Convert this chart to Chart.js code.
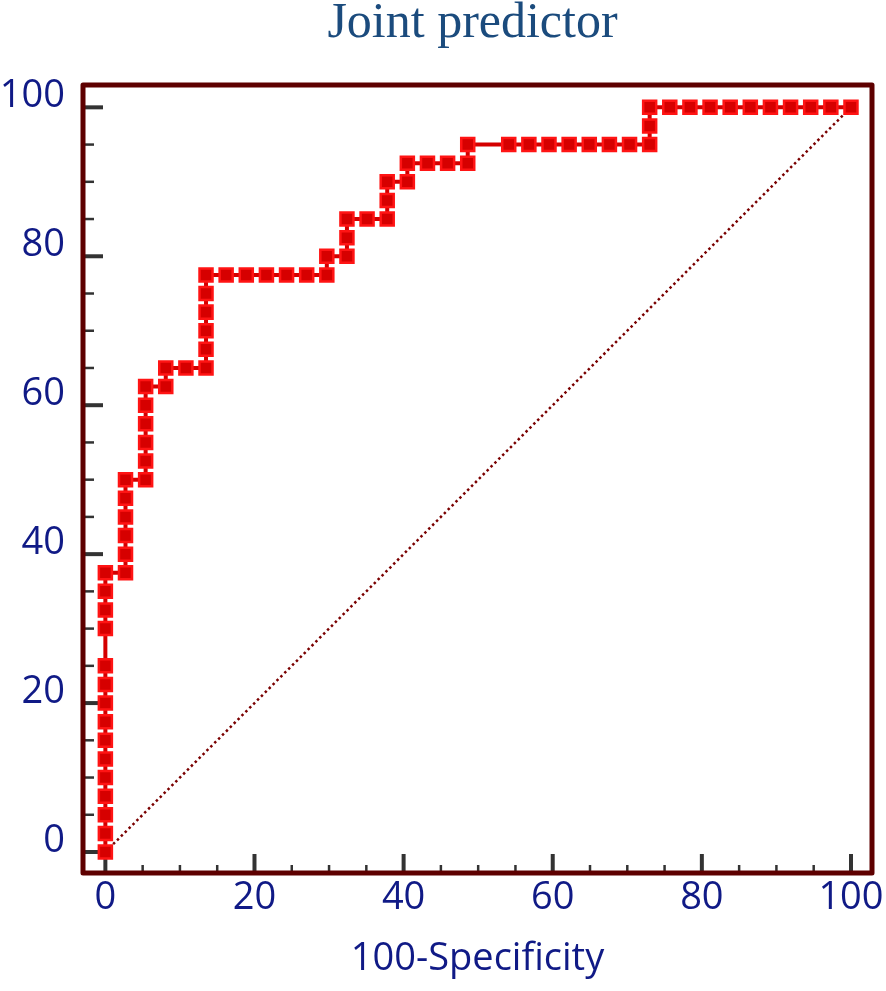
<!DOCTYPE html>
<html><head><meta charset="utf-8">
<script src="https://cdn.jsdelivr.net/npm/chart.js@4.4.0/dist/chart.umd.min.js"></script>
<style>html,body{margin:0;padding:0;background:#fff;} canvas{display:block;}</style>
</head><body>
<canvas id="c" width="886" height="991"></canvas>
<script>
const chartTitle = 'Joint predictor';
const xAxisTitle = '100-Specificity';

// ROC curve points: x = 100-Specificity, y = Sensitivity
const specComplement = [
  0,0,0,0,0,0,0,0,0,0,0,0,0,0,0,
  2.7,2.7,2.7,2.7,2.7,2.7,
  5.4,5.4,5.4,5.4,5.4,5.4,
  8.1,8.1,
  10.8,
  13.5,13.5,13.5,13.5,13.5,13.5,
  16.2,18.9,21.6,24.3,27.0,
  29.7,29.7,
  32.4,32.4,32.4,
  35.1,
  37.8,37.8,37.8,
  40.5,40.5,
  43.2,45.9,
  48.6,48.6,
  54.1,56.8,59.5,62.2,64.9,67.6,70.3,
  73.0,73.0,73.0,
  75.7,78.4,81.1,83.8,86.5,89.2,91.9,94.6,97.3,100
];
const sensitivity = [
  0,2.5,5,7.5,10,12.5,15,17.5,20,22.5,25,30,32.5,35,37.5,
  37.5,40,42.5,45,47.5,50,
  50,52.5,55,57.5,60,62.5,
  62.5,65,
  65,
  65,67.5,70,72.5,75,77.5,
  77.5,77.5,77.5,77.5,77.5,
  77.5,80,
  80,82.5,85,
  85,
  85,87.5,90,
  90,92.5,
  92.5,92.5,
  92.5,95,
  95,95,95,95,95,95,95,
  95,97.5,100,
  100,100,100,100,100,100,100,100,100,100
];
const diagonalX = [0, 100];
const diagonalY = [0, 100];
const majorTicks = [0, 20, 40, 60, 80, 100];
const minorTicks = [5, 10, 15, 25, 30, 35, 45, 50, 55, 65, 70, 75, 85, 90, 95];

const rocPoints = specComplement.map((v, i) => ({x: v, y: sensitivity[i]}));
const diagPoints = diagonalX.map((v, i) => ({x: v, y: diagonalY[i]}));

const labelColor = '#101a86';
const tickFont = {family: "'Open Sans', 'Noto Sans', sans-serif", size: 38};

const frameAndTicks = {
  id: 'frameAndTicks',
  beforeDatasetsDraw(chart) {
    const {ctx, chartArea: a, scales: {x, y}} = chart;
    ctx.save();
    ctx.strokeStyle = '#333333';
    ctx.lineCap = 'butt';
    const seg = (x1, y1, x2, y2, w) => { ctx.lineWidth = w; ctx.beginPath(); ctx.moveTo(x1, y1); ctx.lineTo(x2, y2); ctx.stroke(); };
    majorTicks.forEach(v => {
      const px = x.getPixelForValue(v);
      seg(px, a.bottom, px, a.bottom - 19, 4);
      const py = y.getPixelForValue(v);
      seg(a.left, py, a.left + 20, py, 4);
    });
    minorTicks.forEach(v => {
      const px = x.getPixelForValue(v);
      seg(px, a.bottom, px, a.bottom - 8, 2.5);
      const py = y.getPixelForValue(v);
      seg(a.left, py, a.left + 11, py, 2.5);
    });
    ctx.restore();
  },
  afterDraw(chart) {
    const {ctx, chartArea: a} = chart;
    ctx.save();
    ctx.strokeStyle = '#5e0000';
    ctx.lineWidth = 5;
    ctx.lineJoin = 'round';
    ctx.strokeRect(a.left, a.top, a.right - a.left, a.bottom - a.top);
    // chart title, centred over the plot area
    ctx.fillStyle = '#1b4b7d';
    ctx.font = "50px 'Liberation Serif', 'Times New Roman', serif";
    ctx.textAlign = 'center';
    ctx.textBaseline = 'alphabetic';
    ctx.fillText(chartTitle, (a.left + a.right) / 2 - 5, 37);
    ctx.restore();
  }
};

new Chart(document.getElementById('c'), {
  type: 'scatter',
  data: {
    datasets: [
      {
        label: 'ROC',
        data: rocPoints,
        showLine: true,
        borderColor: '#d40000',
        borderWidth: 4,
        pointStyle: 'rect',
        pointRadius: 9.2,
        pointBackgroundColor: '#d60000',
        pointBorderColor: '#ff1414',
        pointBorderWidth: 2.5,
        order: 0
      },
      {
        label: 'Reference',
        data: diagPoints,
        showLine: true,
        borderColor: '#7a0000',
        borderWidth: 2.5,
        borderDash: [2.5, 3],
        pointRadius: 0,
        order: 1
      }
    ]
  },
  options: {
    responsive: false,
    animation: false,
    devicePixelRatio: 1,
    events: [],
    layout: {padding: {left: 0, right: 14, top: 85, bottom: 0}},
    plugins: {
      legend: {display: false},
      tooltip: {enabled: false},
      title: {display: false}
    },
    scales: {
      x: {
        type: 'linear',
        min: -3.0,
        max: 102.82,
        grid: {display: false, drawTicks: false},
        border: {display: false},
        ticks: {color: labelColor, font: tickFont, padding: 2, maxRotation: 0, includeBounds: false},
        afterBuildTicks: s => { s.ticks = majorTicks.map(v => ({value: v})); },
        afterFit: s => { s.height = 118; s.paddingLeft = 0; s.paddingRight = 0; s.paddingTop = 0; s.paddingBottom = 0; },
        title: {display: true, text: xAxisTitle, color: labelColor, font: {family: "'Open Sans', 'Noto Sans', sans-serif", size: 38}, padding: {top: 0, bottom: 9}}
      },
      y: {
        type: 'linear',
        min: -2.82,
        max: 103.0,
        grid: {display: false, drawTicks: false},
        border: {display: false},
        ticks: {color: labelColor, font: tickFont, padding: 18, labelOffset: -11, includeBounds: false},
        afterBuildTicks: s => { s.ticks = majorTicks.map(v => ({value: v})); },
        afterFit: s => { s.width = 83; s.paddingLeft = 0; s.paddingRight = 0; s.paddingTop = 0; s.paddingBottom = 0; }
      }
    }
  },
  plugins: [frameAndTicks]
});
</script>
</body></html>
